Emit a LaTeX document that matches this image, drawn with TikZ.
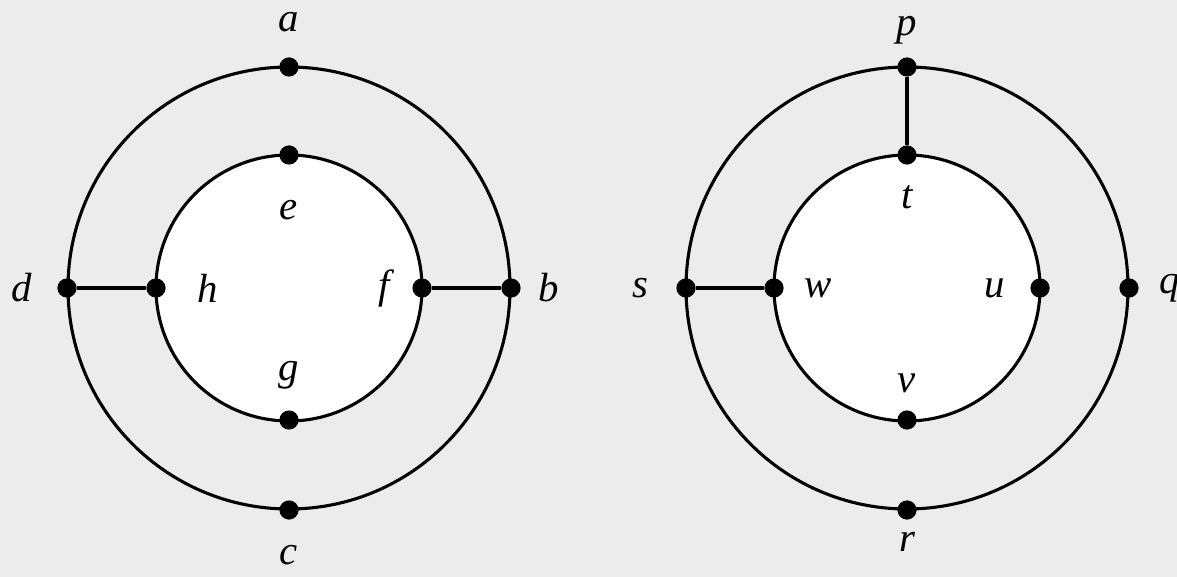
\documentclass[tikz,border=0pt]{standalone}
\usepackage{fontspec}
\setmainfont{Liberation Serif}[ItalicFont={Liberation Serif Italic}]
\usetikzlibrary{positioning}
\definecolor{marble}{RGB}{236,236,236}

\begin{document}
\begin{tikzpicture}[
    x=0.025cm, y=-0.025cm,
    dot/.style={circle, fill=black, inner sep=0pt, minimum size=0.48cm},
    lbl/.style={font=\fontsize{29}{32}\selectfont\itshape, inner sep=0pt},
    ring/.style={draw=black, line width=2.2pt},
    link/.style={draw=black, line width=2.2pt}
]
    % background
    \useasboundingbox (0,0) rectangle (1177,577);
    \clip (0,0) rectangle (1177,577);
    \fill[marble] (0,0) rectangle (1177,577);

    % left graph
    \draw[ring] (289,288) circle[radius=221];
    \filldraw[ring, fill=white] (289,288) circle[radius=133];
    \node (a) [dot] at (289,67) {};
    \node (b) [dot] at (511,288) {};
    \node (c) [dot] at (289,510) {};
    \node (d) [dot] at (67,288) {};
    \node (e) [dot] at (289,155) {};
    \node (f) [dot] at (422,288) {};
    \node (g) [dot] at (289,420) {};
    \node (h) [dot] at (156,288) {};

    \node (la) [lbl] at ([shift={(0,-45)}]a) {a};
    \node (lb) [lbl] at ([shift={(38,0)}]b) {b};
    \node (lc) [lbl] at ([shift={(0,45)}]c) {c};
    \node (ld) [lbl] at ([shift={(-45,0)}]d) {d};
    \node (le) [lbl] at ([shift={(0,55)}]e) {e};
    \node (lf) [lbl] at ([shift={(-38,0)}]f) {f};
    \node (lg) [lbl] at ([shift={(0,-45)}]g) {g};
    \node (lh) [lbl] at ([shift={(52,0)}]h) {h};

    \draw[link] (d) -- (h);
    \draw[link] (f) -- (b);

    % right graph
    \draw[ring] (907,288) circle[radius=221];
    \filldraw[ring, fill=white] (907,288) circle[radius=133];
    \node (p) [dot] at (907,67) {};
    \node (q) [dot] at (1129,288) {};
    \node (r) [dot] at (907,510) {};
    \node (s) [dot] at (686,288) {};
    \node (t) [dot] at (907,155) {};
    \node (u) [dot] at (1040,288) {};
    \node (v) [dot] at (907,420) {};
    \node (w) [dot] at (774,288) {};

    \node (lp) [lbl] at ([shift={(0,-37)}]p) {p};
    \node (lq) [lbl] at ([shift={(41,0)}]q) {q};
    \node (lr) [lbl] at ([shift={(0,32)}]r) {r};
    \node (ls) [lbl] at ([shift={(-46,0)}]s) {s};
    \node (lt) [lbl] at ([shift={(0,42)}]t) {t};
    \node (lu) [lbl] at ([shift={(-45,0)}]u) {u};
    \node (lv) [lbl] at ([shift={(0,-37)}]v) {v};
    \node (lw) [lbl] at ([shift={(44,0)}]w) {w};

    \draw[link] (p) -- (t);
    \draw[link] (s) -- (w);
\end{tikzpicture}
\end{document}
